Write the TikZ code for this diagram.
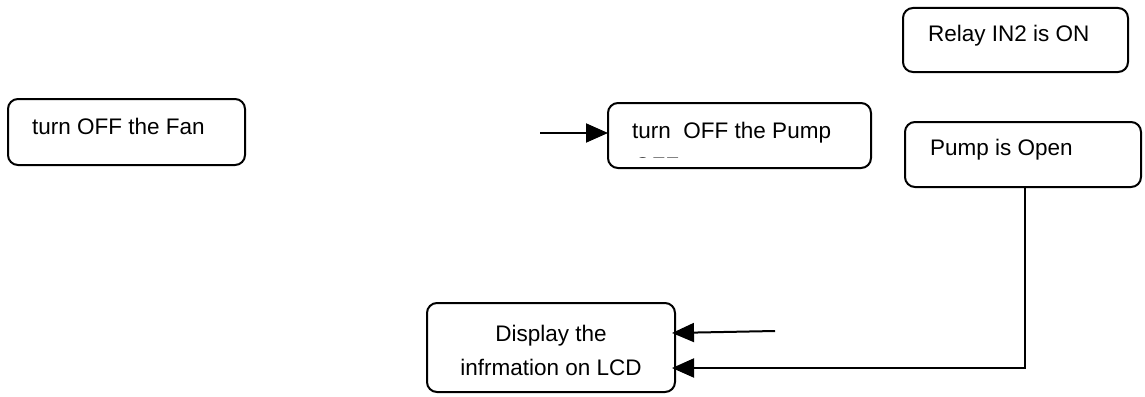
\documentclass[tikz,border=0pt]{standalone}
\usepackage{fontspec}
\setmainfont{Liberation Sans}
\usetikzlibrary{arrows.meta}
\begin{document}
\begin{tikzpicture}[x=1pt,y=-1pt,
  box/.style={draw=black,line width=2pt,rounded corners=10pt},
  lbl/.style={anchor=west,inner sep=0pt,font=\fontsize{22.5}{27}\selectfont},
  clbl/.style={align=center,inner sep=0pt,font=\fontsize{22.5}{34}\selectfont},
  flow/.style={line width=2pt,-{Triangle[length=22pt,width=19pt]}}]
\useasboundingbox (0,0) rectangle (1145,396);

% boxes
\draw[box] (8,99) rectangle (245,165);
\node[lbl] (fan) at (32,126) {turn OFF the Fan};

\draw[box] (608,103) rectangle (871,168);
\coordinate (pumpL) at (608,133);
\node[lbl] (pumpoff) at (632,133) {turn\ \ OFF the Pump};
\begin{scope}
  \clip (620,152) rectangle (700,157);
  \node[lbl] (pumpoff2) at (634,166) {OFF};
\end{scope}

\draw[box] (903,8) rectangle (1128,72);
\node[lbl] (relay) at (928,36) {Relay IN2 is ON};

\draw[box] (905,122) rectangle (1141,187);
\node[lbl] (open) at (930,150) {Pump is Open};
\coordinate (openB) at (1025,187);

\draw[box] (427,303) rectangle (675,392);
\node[clbl] (lcd) at (551,350) {Display the\\infrmation on LCD};
\coordinate (lcdA) at (672,333);
\coordinate (lcdB) at (672,368);

% connectors
\coordinate (inPump) at (540,133);
\draw[flow] (inPump) -- (pumpL);
\coordinate (inLcd) at (775,331);
\draw[flow] (inLcd) -- (lcdA);
\draw[flow] (openB) -- (1025,368) -- (lcdB);
\end{tikzpicture}
\end{document}
